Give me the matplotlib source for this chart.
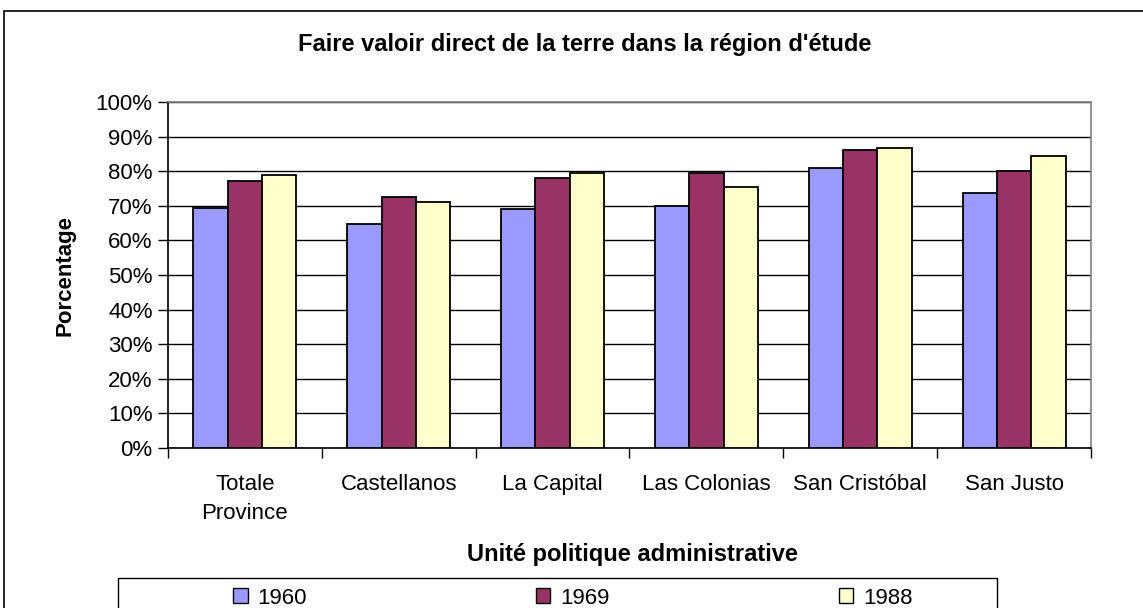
import numpy as np
import matplotlib
matplotlib.use("Agg")
import matplotlib.pyplot as plt
from matplotlib.patches import Rectangle
from matplotlib.ticker import FuncFormatter

plt.rcParams["font.family"] = ["Liberation Sans", "DejaVu Sans"]

categories = ["Totale\nProvince", "Castellanos", "La Capital",
              "Las Colonias", "San Cristóbal", "San Justo"]
years = ["1960", "1969", "1988"]
v1960 = [69.4, 64.7, 69.0, 70.0, 81.0, 73.6]
v1969 = [77.3, 72.5, 77.9, 79.5, 86.1, 80.0]
v1988 = [78.8, 71.0, 79.4, 75.3, 86.6, 84.4]
colors = ["#9999ff", "#993366", "#ffffcc"]

W, H = 1143, 608
fig = plt.figure(figsize=(W / 100, H / 100), dpi=100)
ax = fig.add_axes([168 / W, 1 - 448 / H, (1091 - 168) / W, (448 - 102) / H])

# outer chart frame (runs off the right and bottom edges, as in the original)
fig.patches.append(Rectangle((4 / W, -0.1), 1.2, 1 - 11 / H + 0.1,
                             transform=fig.transFigure, fill=False,
                             edgecolor="black", lw=1.2))
# legend box, also cut by the bottom edge
fig.patches.append(Rectangle((118 / W, -0.1), (997 - 118) / W, 1 - 578 / H + 0.1,
                             transform=fig.transFigure, fill=False,
                             edgecolor="black", lw=1.0))

x = np.arange(len(categories))
bw = 0.223
for i, (vals, c, lab) in enumerate(zip([v1960, v1969, v1988], colors, years)):
    ax.bar(x + (i - 1) * bw, vals, bw, color=c, edgecolor="black",
           linewidth=1.3, label=lab, zorder=3)

ax.set_xlim(-0.5, len(categories) - 0.5)
ax.set_ylim(0, 100)
ax.set_yticks(np.arange(0, 101, 10))
ax.yaxis.set_major_formatter(FuncFormatter(lambda v, p: f"{v:.0f}%"))
ax.grid(axis="y", color="black", lw=1, zorder=0)
ax.set_axisbelow(True)

ax.set_xticks(x)
ax.set_xticklabels(categories, fontsize=16, linespacing=1.45)
ax.set_xticks(np.arange(-0.5, len(categories)), minor=True)
ax.tick_params(axis="x", which="major", length=0, pad=19)
ax.tick_params(axis="x", which="minor", length=7, width=1, color="black")
ax.tick_params(axis="y", length=7, width=1, labelsize=16, pad=4)

for s in ["top", "right"]:
    ax.spines[s].set_color("#808080")
    ax.spines[s].set_linewidth(1.2)
for s in ["left", "bottom"]:
    ax.spines[s].set_color("black")
    ax.spines[s].set_linewidth(1.2)

fig.text(585 / W, 1 - 45 / H, "Faire valoir direct de la terre dans la région d'étude",
         ha="center", va="center", fontsize=17, fontweight="bold")
fig.text(65 / W, 1 - 275 / H, "Porcentage", rotation=90, ha="center",
         va="center", fontsize=16, fontweight="bold")
fig.text(632 / W, 1 - 555 / H, "Unité politique administrative",
         ha="center", va="center", fontsize=17, fontweight="bold")

leg = fig.legend(loc="center left", bbox_to_anchor=(222 / W, 1 - 598 / H),
                 ncol=3, fontsize=16, frameon=False,
                 handlelength=0.65, handleheight=0.65,
                 handletextpad=0.45, columnspacing=10.3, borderpad=0.0)
for h in leg.legend_handles:
    h.set_linewidth(1.0)

fig.savefig("out.png", dpi=100)
